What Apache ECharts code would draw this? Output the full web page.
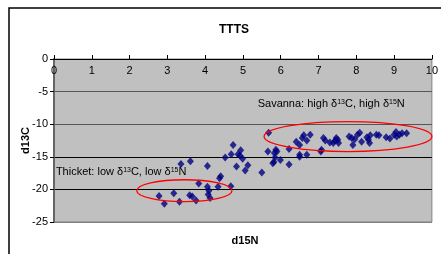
<!DOCTYPE html>
<html>
<head>
<meta charset="utf-8">
<script src="https://cdn.jsdelivr.net/npm/echarts@6/dist/echarts.min.js"></script>
<style>
  html, body { margin: 0; padding: 0; background: #fff; }
  #main { width: 441px; height: 254px; }
</style>
</head>
<body>
<div id="main"></div>
<script>
// d15N (x) and d13C (y) values
var d15N = [
    2.78, 2.92, 3.17, 3.32, 3.36, 3.61, 3.59, 3.66, 3.76, 3.83,
    4.06, 4.06, 4.10, 4.08, 4.13, 4.34, 4.38, 4.41, 4.68, 4.53,
    4.69, 4.74, 4.87, 4.94, 4.92, 4.99, 4.83, 5.13, 5.06, 5.50,
    5.68, 5.66, 5.87, 5.83, 5.90, 5.85, 5.79, 5.82, 5.99, 6.22,
    6.22, 6.41, 6.50, 6.50, 6.50, 6.57, 6.61, 6.69, 6.78, 6.69,
    7.06, 7.08, 7.13, 7.18, 7.30, 7.39, 7.44, 7.47, 7.51, 7.53,
    7.81, 7.88, 7.91, 7.96, 8.03, 8.09, 8.14, 8.28, 8.32, 8.35,
    8.37, 8.53, 8.60, 8.79, 8.89, 9.00, 9.05, 9.07, 9.14, 9.21,
    9.33
];
var d13C = [
    -21.0, -22.2, -20.6, -21.9, -16.1, -15.7, -20.9, -21.1, -21.7, -19.1,
    -16.4, -19.6, -20.2, -20.8, -21.3, -19.6, -18.3, -18.0, -19.5, -15.1,
    -14.6, -13.2, -14.6, -14.0, -14.8, -15.3, -16.5, -16.3, -17.1, -17.4,
    -11.3, -14.2, -13.9, -14.4, -14.2, -15.1, -16.0, -15.8, -15.5, -13.8,
    -16.2, -12.7, -13.2, -14.7, -15.0, -12.1, -11.7, -12.5, -11.6, -14.7,
    -14.2, -13.9, -12.1, -12.5, -12.8, -12.9, -12.5, -12.1, -12.4, -12.9,
    -11.9, -12.1, -13.2, -12.3, -11.6, -11.3, -12.7, -12.0, -12.4, -12.9,
    -11.7, -11.6, -11.7, -12.0, -12.2, -11.6, -11.2, -11.9, -11.6, -11.4,
    -11.4
];
var xTicks = [0, 10, 1];
var yTicks = [-25, 0, 5];

var points = d15N.map(function (x, i) { return [x, d13C[i]]; });

var myChart = echarts.init(document.getElementById('main'));

var option = {
    backgroundColor: '#fff',
    animation: false,
    title: {
        text: 'TTTS',
        left: 229,
        top: 19,
        textAlign: 'center',
        textStyle: { fontFamily: 'Liberation Sans', fontSize: 12, fontWeight: 'bold', color: '#000' }
    },
    grid: {
        left: 54, top: 59, width: 380, height: 163,
        show: true,
        backgroundColor: '#c0c0c0',
        borderColor: '#808080',
        borderWidth: 1
    },
    xAxis: {
        type: 'value',
        position: 'top',
        min: xTicks[0], max: xTicks[1], interval: xTicks[2],
        axisLine: { onZero: false, lineStyle: { color: '#000', width: 1 } },
        axisTick: { show: true, inside: false, length: 4, lineStyle: { color: '#000' } },
        axisLabel: { inside: true, margin: 6, fontFamily: 'Liberation Sans', fontSize: 11, color: '#000' },
        splitLine: { show: false }
    },
    yAxis: {
        type: 'value',
        min: yTicks[0], max: yTicks[1], interval: yTicks[2],
        name: 'd13C',
        nameLocation: 'middle',
        nameRotate: 90,
        nameGap: 23,
        nameMoveOverlap: false,
        nameTextStyle: { fontFamily: 'Liberation Sans', fontSize: 11, fontWeight: 'bold', color: '#000' },
        axisLine: { onZero: false, lineStyle: { color: '#666', width: 2 } },
        axisTick: { show: true, length: 4, lineStyle: { color: '#000' } },
        axisLabel: { margin: 6, fontFamily: 'Liberation Sans', fontSize: 11, color: '#000' },
        splitLine: { show: true, lineStyle: { color: ['#808080', '#000', '#000', '#555', '#555', '#000'], width: 1 } }
    },
    series: [{
        type: 'scatter',
        data: points,
        symbol: 'diamond',
        symbolSize: [7, 8],
        itemStyle: { color: '#000080' }
    }]
};

myChart.setOption(option);

// annotations placed in data coordinates
function px(p) { return myChart.convertToPixel({ gridIndex: 0 }, p); }
function ellipse(c, rx, ry) {
    var ctr = px(c);
    var e = px([c[0] + rx, c[1] - ry]);
    return {
        type: 'ellipse',
        shape: { cx: ctr[0], cy: ctr[1], rx: e[0] - ctr[0], ry: e[1] - ctr[1] },
        style: { fill: null, stroke: '#ff0000', lineWidth: 1.3 },
        z: 100
    };
}
var rich = {
    t: { fontFamily: 'Liberation Sans', fontSize: 11, color: '#222' },
    s: { fontFamily: 'Liberation Sans', fontSize: 7, color: '#222', verticalAlign: 'top', padding: [0, 0, 4, 0] }
};
function note(p, label) {
    var q = px(p);
    return {
        type: 'text', x: q[0], y: q[1], z: 100,
        style: { text: label, rich: rich, verticalAlign: 'middle', textAlign: 'left' }
    };
}

myChart.setOption({
    graphic: [
        {
            type: 'rect', z: -10, silent: true,
            shape: { x: 9, y: 8, width: 460, height: 280 },
            style: { fill: null, stroke: '#000', lineWidth: 1.5 }
        },
        ellipse([7.78, -11.9], 2.22, 2.3),
        ellipse([3.45, -20.2], 1.26, 1.68),
        note([5.39, -6.9], '{t|Savanna: high δ}{s|13}{t|C, high δ}{s|15}{t|N}'),
        note([0.05, -17.4], '{t|Thicket: low δ}{s|13}{t|C, low δ}{s|15}{t|N}'),
        {
            type: 'text', x: 245, y: 241, z: 100,
            style: {
                text: 'd15N', textAlign: 'center', verticalAlign: 'middle',
                fontFamily: 'Liberation Sans', fontSize: 11, fontWeight: 'bold', fill: '#000'
            }
        }
    ]
});
</script>
</body>
</html>
